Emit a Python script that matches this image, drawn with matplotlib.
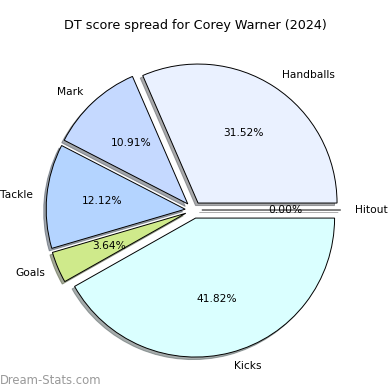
import matplotlib
matplotlib.use('Agg')
import matplotlib.pyplot as plt

labels = ['Handballs', 'Mark', 'Tackle', 'Goals', 'Kicks', 'Hitout']
points = [52, 18, 20, 6, 69, 0]
colors = ['#eaf1ff', '#c5d9ff', '#b4d4ff', '#cfea8b', '#daffff', '#ffffff']
explode = [0.06] * len(points)

fig = plt.figure(figsize=(3.9, 3.9), dpi=100)
ax = fig.add_axes([0, 0, 1, 1])

ax.pie(points, labels=labels, colors=colors, explode=explode,
       autopct='%1.2f%%', startangle=0,
       shadow={'ox': -0.013, 'oy': -0.013, 'shade': 0.65},
       wedgeprops={'edgecolor': 'black', 'linewidth': 0.7},
       textprops={'fontsize': 7.7})

# place the pie the same way as the original
ax.set_xlim(-1.392, 1.414)
ax.set_ylim(-1.295, 1.511)
ax.set_aspect('equal')
ax.axis('off')

fig.text(0.5, 1 - 25 / 390, 'DT score spread for Corey Warner (2024)',
         ha='center', va='center', fontsize=9.2)
fig.text(0.0, 1 - 380 / 390, 'Dream-Stats.com', ha='left', va='center',
         fontsize=8.4, color='#9a9a9a')

plt.savefig('out.png', dpi=100)
